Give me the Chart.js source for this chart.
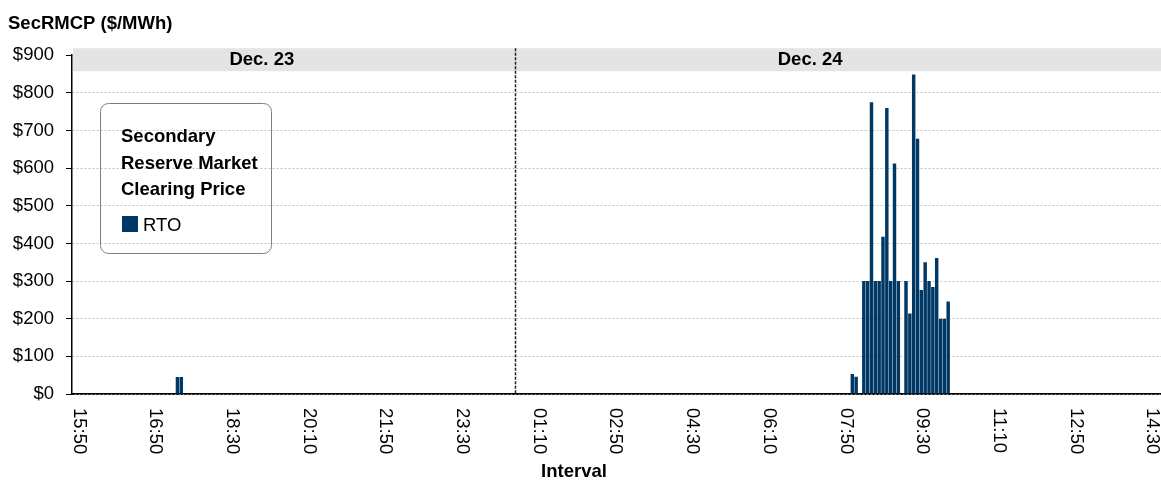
<!DOCTYPE html>
<html>
<head>
<meta charset="utf-8">
<script src="https://cdn.jsdelivr.net/npm/chart.js@4.4.0/dist/chart.umd.min.js"></script>
<style>
  html, body { margin: 0; padding: 0; background: #fff; }
</style>
</head>
<body>
<canvas id="myChart" width="1161" height="485"></canvas>
<script>
// labelled ticks on the interval axis, one every 20 intervals
const tickLabels = ['15:50', '16:50', '18:30', '20:10', '21:50', '23:30', '01:10', '02:50', '04:30', '06:10', '07:50', '09:30', '11:10', '12:50', '14:30'];
const tickStep = 20;
const intervalCount = 284;
const dayLabels = ['Dec. 23', 'Dec. 24'];

// price runs ($/MWh), starting at interval index
const dec23Start = 27;
const dec23Prices = [45, 45];
const dec24Start = 203;
const dec24Prices = [53, 46, 0, 300, 300, 775, 300, 300, 418, 760, 300, 612, 300, 0, 300, 214, 849, 678, 276, 350, 300, 284, 361, 200, 200, 246];

const yMax = 900;
const yStep = 100;

const barColor = 'rgb(0, 56, 101)';
const FONT = '"Liberation Sans", Arial, sans-serif';

// categories + series
const intervals = [];
const rto = [];
for (let i = 0; i < intervalCount; i++) {
  intervals.push((i - 1) % tickStep === 0 ? tickLabels[(i - 1) / tickStep] : '');
  rto.push(0);
}
dec23Prices.forEach((v, k) => { rto[dec23Start + k] = v; });
dec24Prices.forEach((v, k) => { rto[dec24Start + k] = v; });

// band on top, day divider, rotated tick labels, axis title, legend box
const decorations = {
  id: 'decorations',
  beforeDatasetsDraw(chart) {
    const ctx = chart.ctx;
    const a = chart.chartArea;
    ctx.save();
    ctx.fillStyle = '#e4e4e4';
    ctx.fillRect(a.left + 1, a.top - 7, chart.width - a.left - 1, 23);
    ctx.restore();
  },
  afterDatasetsDraw(chart) {
    const ctx = chart.ctx;
    const a = chart.chartArea;
    const x = chart.scales.x;
    const px = Math.round(x.getPixelForValue(115)) + 0.5;
    ctx.save();
    ctx.strokeStyle = '#222';
    ctx.lineWidth = 1.5;
    ctx.setLineDash([3, 1.5]);
    ctx.beginPath();
    ctx.moveTo(px, a.top - 7);
    ctx.lineTo(px, a.bottom);
    ctx.stroke();
    ctx.restore();
  },
  afterDraw(chart) {
    const ctx = chart.ctx;
    const a = chart.chartArea;
    const x = chart.scales.x;
    ctx.save();

    // day headers
    ctx.fillStyle = '#000';
    ctx.font = 'bold 18.5px ' + FONT;
    ctx.textAlign = 'center';
    ctx.textBaseline = 'middle';
    ctx.fillText(dayLabels[0], x.getPixelForValue(49), a.top + 5);
    ctx.fillText(dayLabels[1], x.getPixelForValue(192), a.top + 5);

    // interval tick labels, read top to bottom
    ctx.font = '18.5px ' + FONT;
    ctx.textAlign = 'left';
    intervals.forEach((lab, i) => {
      if (!lab) return;
      ctx.save();
      ctx.translate(x.getPixelForValue(i) + 1, a.bottom + 14);
      ctx.rotate(Math.PI / 2);
      ctx.fillText(lab, 0, 0);
      ctx.restore();
    });

    // axis title
    ctx.font = 'bold 18.5px ' + FONT;
    ctx.textAlign = 'center';
    ctx.fillText('Interval', 574, 472);

    // legend box
    ctx.strokeStyle = '#7f7f7f';
    ctx.lineWidth = 1;
    ctx.beginPath();
    ctx.roundRect(100.5, 103.5, 171, 150, 8);
    ctx.stroke();
    ctx.textAlign = 'left';
    ctx.textBaseline = 'alphabetic';
    ctx.font = 'bold 18.5px ' + FONT;
    ctx.fillText('Secondary', 121, 142);
    ctx.fillText('Reserve Market', 121, 168.5);
    ctx.fillText('Clearing Price', 121, 195);
    ctx.fillStyle = chart.data.datasets[0].backgroundColor;
    ctx.fillRect(122, 216, 16, 16);
    ctx.fillStyle = '#000';
    ctx.font = '18.5px ' + FONT;
    ctx.fillText(chart.data.datasets[0].label, 143, 231);
    ctx.restore();
  }
};

const ctx = document.getElementById('myChart').getContext('2d');
const myChart = new Chart(ctx, {
  type: 'bar',
  data: {
    labels: intervals,
    datasets: [{
      label: 'RTO',
      data: rto,
      backgroundColor: barColor,
      borderWidth: 0,
      categoryPercentage: 1,
      barPercentage: 0.9
    }]
  },
  options: {
    responsive: false,
    animation: false,
    layout: { padding: { left: 8, right: 0, top: 0, bottom: 0 } },
    plugins: {
      legend: { display: false },
      tooltip: { enabled: false },
      title: {
        display: true,
        text: 'SecRMCP ($/MWh)',
        align: 'start',
        color: '#000',
        font: { family: FONT, size: 18.5, weight: 'bold' },
        padding: { top: 13, bottom: 20 }
      }
    },
    scales: {
      x: {
        type: 'category',
        offset: true,
        grid: { display: false },
        ticks: { display: false },
        border: { display: true, color: '#000', width: 1.5 },
        afterFit: s => { s.height = 91; }
      },
      y: {
        min: 0,
        max: yMax,
        ticks: {
          stepSize: yStep,
          color: '#000',
          padding: 12,
          font: { family: FONT, size: 18.5 },
          callback: v => '$' + v
        },
        grid: {
          color: c => c.tick && c.tick.value === 0 ? '#000' : '#c4c4c4',
          lineWidth: 1,
          tickColor: '#000',
          tickLength: 6
        },
        border: { display: true, color: '#000', width: 1.5, dash: [2, 2] },
        afterFit: s => { s.width = 64; }
      }
    }
  },
  plugins: [decorations]
});
</script>
</body>
</html>
